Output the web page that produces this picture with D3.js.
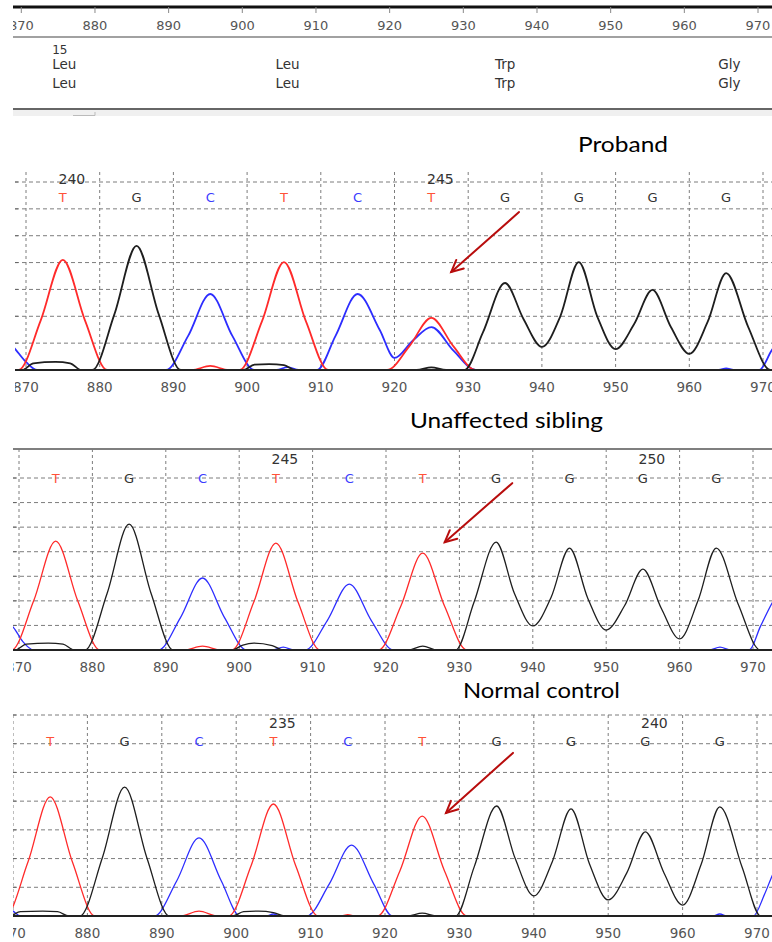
<!DOCTYPE html>
<html>
<head>
<meta charset="utf-8">
<script src="https://cdn.jsdelivr.net/npm/d3@7"></script>
<style>
  body { margin: 0; background: #fff; }
  svg { display: block; }
</style>
</head>
<body>
<svg id="chart" width="772" height="942"></svg>
<script>
// ---- data ----
const axisTicks = [870, 880, 890, 900, 910, 920, 930, 940, 950, 960, 970];
const basePositions = [875, 885, 895, 905, 915, 925, 935, 945, 955, 965];
const baseCalls = ["T", "G", "C", "T", "C", "T", "G", "G", "G", "G"];

// codon annotation strip at the top
const codonPositions = [874.2, 904.5, 934.3, 964.6];
const codonRef = ["Leu", "Leu", "Trp", "Gly"];
const codonSample = ["Leu", "Leu", "Trp", "Gly"];
const codonNumbers = ["15", "", "", ""];

// base numbering shown above the calls: [index of base, label]
const probandNumbers = [[0, "240"], [5, "245"]];
const siblingNumbers = [[3, "245"], [8, "250"]];
const controlNumbers = [[3, "235"], [8, "240"]];

// traces: [scan position, signal] (signal 0..700 = baseline..top grid line)
const probandRed = [[866,0],[869,0],[872,185],[875,410],[878,185],[881,0],[892.5,0],[895,15],[897.5,0],[899,0],[902,180],[905,402],[908,180],[911,0],[919,0],[922,88],[925,194],[928,88],[931,0],[975,0]];
const probandBlack = [[866,0],[869.5,0],[871,25],[874,30],[876,25],[877.5,0],[879,0],[882,208],[885,462],[888,208],[891,0],[899.5,0],[901,20],[903,22],[905,18],[906.5,0],[923,0],[925,10],[927,0],[929.5,0],[932,140],[935,324],[937.5,190],[940,86],[942.5,200],[945,402],[947.5,200],[950,78],[952.5,170],[955,298],[957.5,160],[960,60],[962.5,180],[965,361],[968,160],[971,0],[975,0]];
const probandBlue = [[866,120],[868,93],[870,30],[871.5,0],[889,0],[892,127],[895,283],[898,127],[901,0],[904,0],[905.5,11],[907,0],[909.5,0],[912,127],[915,283],[918,149],[920,45],[922.5,110],[925,160],[928,72],[931,0],[964,0],[965,6],[966,0],[969.5,0],[971.2,74],[973,140]];

const siblingRed = [[866,0],[869,0],[872,200],[875,443],[878,200],[881,0],[892.5,0],[895,16],[897.5,0],[899,0],[902,196],[905,435],[908,196],[911,0],[919,0],[922,177],[925,394],[928,177],[931,0],[975,0]];
const siblingBlack = [[866,0],[869.5,0],[871,24],[874,28],[876,24],[877.5,0],[879,0],[882,230],[885,512],[888,230],[891,0],[899,0],[900.5,20],[902,28],[904.5,18],[906,0],[923,0],[925,16],[927,0],[929.5,0],[932,195],[935,439],[937.5,230],[940,98],[942.5,215],[945,415],[947.5,210],[950,81],[952.5,180],[955,329],[957.5,170],[960,45],[962.5,200],[965,415],[968,185],[971,0],[975,0]];
const siblingBlue = [[866,140],[869.2,93],[870.5,35],[872,0],[889,0],[892,132],[895,293],[898,132],[901,0],[904.5,0],[906,12],[907.5,0],[909,0],[912,120],[915,268],[918,120],[921,0],[964,0],[965.5,12],[967,0],[969.5,0],[971,95],[972.6,191],[974,260]];

const controlRed = [[866,0],[869,0],[872,187],[875,415],[878,187],[881,0],[892.5,0],[895,17],[897.5,0],[899,0],[902,175],[905,390],[908,175],[911,0],[914,0],[915,5],[916,0],[919,0],[922,157],[925,348],[928,157],[931,0],[975,0]];
const controlBlack = [[866,0],[869.5,0],[871,15],[874,17],[876,15],[877.5,0],[879,0],[882,202],[885,449],[888,202],[891,0],[899.5,0],[901,15],[903,17],[905,12],[906.5,0],[923,0],[925,10],[927,0],[929.5,0],[932,172],[935,383],[937.5,200],[940,70],[942.5,190],[945,373],[947.5,180],[950,56],[952.5,150],[955,293],[957.5,150],[960,38],[962.5,180],[965,380],[968,170],[970.5,0],[975,0]];
const controlBlue = [[866,60],[870,17],[871,0],[889,0],[892,122],[895,272],[898,122],[900.5,0],[904,0],[905,7],[906,0],[909.5,0],[912.5,111],[915.5,247],[918.5,111],[921,0],[964,0],[965,7],[966,0],[969.5,0],[971,75],[972.2,150],[974,230]];

// red arrows pointing at position 925: [from, to] in [scan, signal]
const probandArrow = [[936.9, 588], [927.7, 365]];
const siblingArrow = [[937.2, 679], [928.0, 439]];
const controlArrow = [[937.2, 568], [928.2, 359]];

const gridValues = [100, 200, 300, 400, 500, 600, 700];

// ---- drawing ----
const W = 772;
const svg = d3.select("#chart");
const tickFont = "'DejaVu Sans', Verdana, sans-serif";
const callColor = { T: "#ff5238", G: "#333", C: "#3b3bff" };
const traceColor = { red: "#ff2a2a", black: "#1e1e1e", blue: "#2d2dff" };

// top header (scan ruler + codons)
const xh = d3.scaleLinear().domain([870, 970]).range([21.3, 758]);
svg.append("clipPath").attr("id", "clip-head")
  .append("rect").attr("x", 13).attr("y", 0).attr("width", W - 13).attr("height", 120);
const head = svg.append("g").attr("clip-path", "url(#clip-head)");

head.append("line").attr("x1", 13).attr("x2", W).attr("y1", 7).attr("y2", 7)
  .attr("stroke", "#111").attr("stroke-width", 3);
head.selectAll(".htick").data(axisTicks).join("line")
  .attr("x1", d => xh(d)).attr("x2", d => xh(d)).attr("y1", 7).attr("y2", 13)
  .attr("stroke", "#888");
head.selectAll(".hlab").data(axisTicks).join("text")
  .attr("x", d => xh(d)).attr("y", 29.5).attr("text-anchor", "middle")
  .attr("font-family", tickFont).attr("font-size", 13).attr("fill", "#555")
  .text(d => d);
head.append("line").attr("x1", 13).attr("x2", W).attr("y1", 37).attr("y2", 37)
  .attr("stroke", "#444").attr("stroke-width", 1.2);

codonPositions.forEach((p, i) => {
  const g = head.append("g").attr("font-family", tickFont).attr("fill", "#333");
  if (codonNumbers[i]) g.append("text").attr("x", xh(p)).attr("y", 53.5)
    .attr("font-size", 12).text(codonNumbers[i]);
  g.append("text").attr("x", xh(p)).attr("y", 69).attr("font-size", 13.5).text(codonRef[i]);
  g.append("text").attr("x", xh(p)).attr("y", 87.5).attr("font-size", 13.5).text(codonSample[i]);
});
head.append("line").attr("x1", 13).attr("x2", W).attr("y1", 109).attr("y2", 109)
  .attr("stroke", "#333").attr("stroke-width", 1.5);
svg.append("rect").attr("x", 13).attr("y", 110).attr("width", W - 13).attr("height", 6)
  .attr("fill", "#f0f0f0");
svg.append("path").attr("d", "M73,115.5H95V112").attr("fill", "none").attr("stroke", "#bbb");

// chromatogram panels
const panels = [
  { id: "p1", title: "Proband", titleX: 578, titleY: 152, titleW: 90,
    x0: 26, x1: 763, base: 370, gridTop: 182, vTop: 172, clipX: 15,
    letterY: 202, numberY: 184, labelY: 392, topLine: false, lw: 1.8,
    red: probandRed, black: probandBlack, blue: probandBlue,
    numbers: probandNumbers, arrow: probandArrow },
  { id: "p2", title: "Unaffected sibling", titleX: 410, titleY: 428, titleW: 193,
    x0: 19, x1: 753, base: 650, gridTop: 478, vTop: 449, clipX: 13,
    letterY: 483, numberY: 464, labelY: 672, topLine: true, lw: 1.3,
    red: siblingRed, black: siblingBlack, blue: siblingBlue,
    numbers: siblingNumbers, arrow: siblingArrow },
  { id: "p3", title: "Normal control", titleX: 463, titleY: 698, titleW: 157,
    x0: 13, x1: 757, base: 916, gridTop: 715, vTop: 715, clipX: 13,
    letterY: 746, numberY: 728, labelY: 938, topLine: false, lw: 1.3,
    red: controlRed, black: controlBlack, blue: controlBlue,
    numbers: controlNumbers, arrow: controlArrow }
];

panels.forEach(p => {
  const x = d3.scaleLinear().domain([870, 970]).range([p.x0, p.x1]);
  const y = d3.scaleLinear().domain([0, 700]).range([p.base, p.gridTop]);

  svg.append("text").attr("x", p.titleX).attr("y", p.titleY)
    .attr("font-family", "Lato, 'Open Sans', sans-serif").attr("font-size", 22)
    .attr("fill", "#000").attr("textLength", p.titleW).attr("lengthAdjust", "spacingAndGlyphs")
    .text(p.title);

  svg.append("clipPath").attr("id", "clip-" + p.id)
    .append("rect").attr("x", p.clipX).attr("y", p.vTop - 30)
    .attr("width", W - p.clipX).attr("height", p.base - p.vTop + 60);
  const g = svg.append("g").attr("clip-path", `url(#clip-${p.id})`);

  if (p.topLine) {
    g.append("line").attr("x1", p.clipX).attr("x2", W).attr("y1", p.vTop).attr("y2", p.vTop)
      .attr("stroke", "#555").attr("stroke-width", 1.5);
  }

  // dashed grid
  g.selectAll(".hg").data(gridValues).join("line")
    .attr("x1", p.clipX).attr("x2", W).attr("y1", d => y(d)).attr("y2", d => y(d))
    .attr("stroke", "#7d7d7d").attr("stroke-dasharray", "4,3");
  g.selectAll(".lt").data(gridValues).join("line")
    .attr("x1", p.clipX).attr("x2", p.clipX + 3).attr("y1", d => y(d)).attr("y2", d => y(d))
    .attr("stroke", "#666");
  g.selectAll(".vg").data(axisTicks).join("line")
    .attr("x1", d => x(d)).attr("x2", d => x(d)).attr("y1", p.vTop).attr("y2", p.base)
    .attr("stroke", "#7d7d7d").attr("stroke-dasharray", "3,3");

  // traces
  const line = d3.line().x(d => x(d[0])).y(d => y(d[1])).curve(d3.curveMonotoneX);
  ["blue", "red", "black"].forEach(ch => {
    g.append("path").datum(p[ch]).attr("d", line)
      .attr("fill", "none").attr("stroke", traceColor[ch])
      .attr("stroke-width", p.lw).attr("stroke-linejoin", "round");
  });

  // baseline
  g.append("line").attr("x1", p.clipX).attr("x2", W).attr("y1", p.base).attr("y2", p.base)
    .attr("stroke", "#222").attr("stroke-width", 2);

  // base calls and numbering
  g.selectAll(".call").data(basePositions).join("text")
    .attr("x", d => x(d)).attr("y", p.letterY).attr("text-anchor", "middle")
    .attr("font-family", tickFont).attr("font-size", 13)
    .attr("fill", (d, i) => callColor[baseCalls[i]])
    .text((d, i) => baseCalls[i]);
  g.selectAll(".num").data(p.numbers).join("text")
    .attr("x", d => x(basePositions[d[0]]) + 9).attr("y", p.numberY).attr("text-anchor", "middle")
    .attr("font-family", tickFont).attr("font-size", 14).attr("fill", "#333")
    .text(d => d[1]);

  // axis labels
  g.selectAll(".ax").data(axisTicks).join("text")
    .attr("x", d => x(d)).attr("y", p.labelY).attr("text-anchor", "middle")
    .attr("font-family", tickFont).attr("font-size", 13.5).attr("fill", "#555")
    .text(d => d);

  // arrow
  const [a, b] = p.arrow;
  const ax0 = x(a[0]), ay0 = y(a[1]), ax1 = x(b[0]), ay1 = y(b[1]);
  const ang = Math.atan2(ay1 - ay0, ax1 - ax0);
  const hl = 13, spread = 0.45;
  const arrow = svg.append("g").attr("stroke", "#b80d0d").attr("stroke-width", 2)
    .attr("fill", "none").attr("stroke-linecap", "round");
  arrow.append("line").attr("x1", ax0).attr("y1", ay0).attr("x2", ax1).attr("y2", ay1);
  arrow.append("path").attr("d",
    `M${ax1 - hl * Math.cos(ang - spread)},${ay1 - hl * Math.sin(ang - spread)}` +
    `L${ax1},${ay1}` +
    `L${ax1 - hl * Math.cos(ang + spread)},${ay1 - hl * Math.sin(ang + spread)}`);
});
</script>
</body>
</html>
